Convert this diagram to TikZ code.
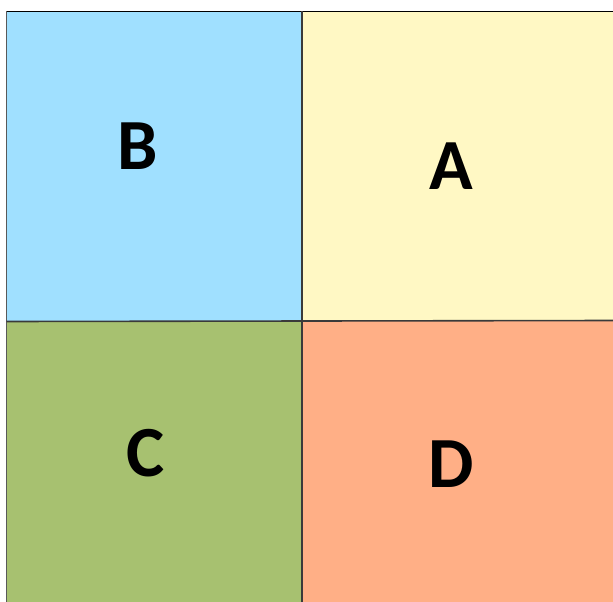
\documentclass[tikz,border=0pt]{standalone}
\usepackage{fontspec}
\setmainfont{Carlito}
\definecolor{cB}{HTML}{A0E0FF}
\definecolor{cA}{HTML}{FFF8C4}
\definecolor{cC}{HTML}{A7C170}
\definecolor{cD}{HTML}{FFAF86}
\definecolor{edge}{HTML}{3A3A3A}
\begin{document}
\begin{tikzpicture}[x=1pt,y=-1pt,
  letter/.style={font=\bfseries\fontsize{72}{72}\selectfont, inner sep=0pt, text=black},
  divider/.style={draw=edge, line width=1.6pt}]
\useasboundingbox (0,0) rectangle (613,602);
\fill[white] (0,0) rectangle (613,602);
\fill[cB] (6.5,11.5) rectangle (302,321);
\fill[cA] (302,11.5) rectangle (613,321);
\fill[cC] (6.5,321) rectangle (302,602);
\fill[cD] (302,321) rectangle (613,602);
\coordinate (tl) at (6.5,11.5);
\coordinate (tr) at (613,11.5);
\coordinate (bl) at (6.5,602);
\coordinate (tm) at (302,11.5);
\coordinate (bm) at (302,602);
\coordinate (ml) at (6.5,321.5);
\coordinate (mr) at (613,320.5);
\draw[divider, draw=black] (tl) -- (tr);
\draw[divider, draw=black!65] (tl) -- (bl);
\draw[divider] (tm) -- (bm);
\draw[divider] (ml) -- (mr);
\node[letter] (B) at (137.5,146.5) {B};
\node[letter] (A) at (451.5,166) {A};
\node[letter] (C) at (145.5,453) {C};
\node[letter] (D) at (451,464) {D};
\end{tikzpicture}
\end{document}
